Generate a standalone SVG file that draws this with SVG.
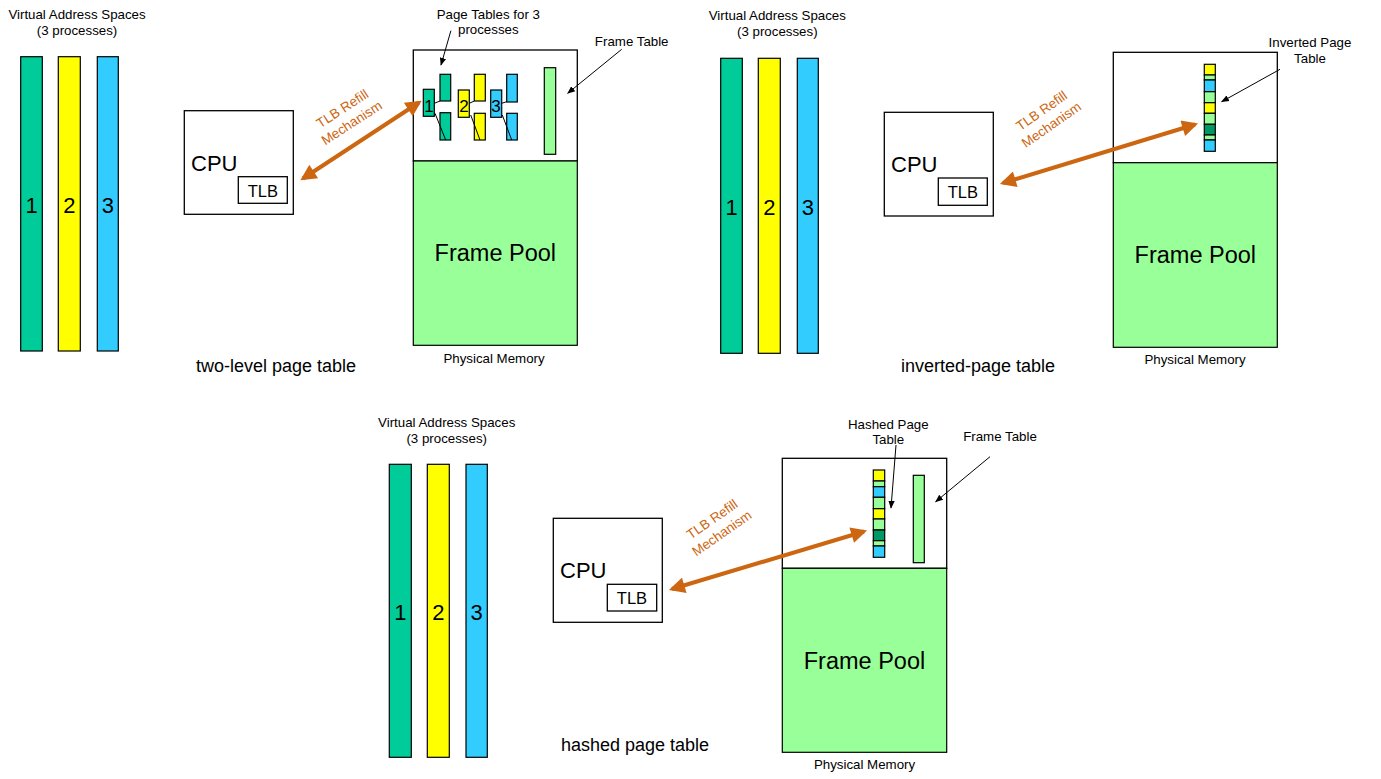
<svg xmlns="http://www.w3.org/2000/svg" width="1381" height="779" viewBox="0 0 1381 779">
<style>
text{font-family:"Liberation Sans",Arial,sans-serif;fill:#000}
.s12{font-size:13.3px}.s16{font-size:18px}.s22{font-size:22px}.fp{font-size:23.5px}.s15{font-size:17px}.tl{font-size:16.5px}
.c{text-anchor:middle}
.box{fill:#fff;stroke:#000;stroke-width:1.3}
.g1{fill:#00CC99;stroke:#000;stroke-width:1.2}
.y{fill:#FFFF00;stroke:#000;stroke-width:1.2}
.b{fill:#33CCFF;stroke:#000;stroke-width:1.2}
.lg{fill:#99FF99;stroke:#000;stroke-width:1.2}
.dg{fill:#009966;stroke:#000;stroke-width:1.2}
.thin{stroke:#000;stroke-width:1;fill:none;marker-end:url(#ah)}
.ln{stroke:#000;stroke-width:1;fill:none}
.tlb{stroke:#CC6611;stroke-width:4;fill:none;marker-start:url(#oa);marker-end:url(#oa)}
.or{fill:#CC6611;font-size:13.5px;text-anchor:middle}
</style>
<defs>
<marker id="ah" viewBox="0 0 10 10" refX="9" refY="5" markerWidth="8" markerHeight="8" markerUnits="userSpaceOnUse" orient="auto-start-reverse"><path d="M0,1 L10,5 L0,9 z" fill="#000"/></marker>
<marker id="oa" viewBox="0 0 10 10" refX="8" refY="5" markerWidth="4.5" markerHeight="4" orient="auto-start-reverse"><path d="M0,0 L10,5 L0,10 z" fill="#CC6611"/></marker>
</defs>

<!-- Panel 1 -->
<g id="vas1">
<text class="s12 c" x="77" y="19">Virtual Address Spaces</text>
<text class="s12 c" x="77" y="35">(3 processes)</text>
<rect class="g1" x="20.7" y="56.7" width="21.6" height="294.3"/>
<rect class="y" x="58.3" y="56.7" width="22" height="294.3"/>
<rect class="b" x="97.3" y="56.7" width="21" height="294.3"/>
<text class="s22 c" x="31.5" y="213">1</text>
<text class="s22 c" x="69.3" y="213">2</text>
<text class="s22 c" x="107.8" y="213">3</text>
</g>
<g id="cpu1">
<rect class="box" x="184.3" y="110.7" width="109" height="103.6"/>
<text class="s22" x="191" y="171">CPU</text>
<rect class="box" x="238.3" y="176.7" width="49" height="26.6"/>
<text class="tl c" x="262.8" y="196.5">TLB</text>
</g>
<g id="mem1">
<rect class="box" x="413.3" y="50" width="164" height="111"/>
<rect class="lg" x="413.3" y="161" width="164" height="184.3"/>
<text class="fp c" x="495.3" y="261">Frame Pool</text>
<text class="s12 c" x="494" y="363">Physical Memory</text>
</g>
<g id="pt1">
<rect class="g1" x="423.3" y="89.3" width="11" height="27"/>
<rect class="g1" x="440" y="74.3" width="10.7" height="26.7"/>
<rect class="g1" x="440" y="112.7" width="10.7" height="27.3"/>
<rect class="y" x="458.3" y="90" width="11" height="27.3"/>
<rect class="y" x="474.3" y="74.3" width="11" height="26.7"/>
<rect class="y" x="474.3" y="113.3" width="11" height="26.7"/>
<rect class="b" x="490.7" y="90" width="11" height="27.3"/>
<rect class="b" x="506.7" y="74.3" width="10.6" height="27.7"/>
<rect class="b" x="506.7" y="113.3" width="10.6" height="26.7"/>
<path class="ln" d="M434.3,103.3 L440,101 M435,113.3 L445.7,140 M469.3,103.3 L474.3,101 M470.7,115 L480,140 M501.7,103.3 L506.7,101.7 M502.3,115 L511.7,140"/>
<text class="s15 c" x="429" y="111.8">1</text>
<text class="s15 c" x="464" y="112">2</text>
<text class="s15 c" x="496" y="112">3</text>
<text class="s12 c" x="488.3" y="18.5">Page Tables for 3</text>
<text class="s12 c" x="488.3" y="33.5">processes</text>
</g>
<g id="ft1">
<rect class="lg" x="544.3" y="67.7" width="11.4" height="86.6"/>
<text class="s12 c" x="631.7" y="46">Frame Table</text>
</g>
<text id="title1" class="s16" x="196" y="372">two-level page table</text>
<g id="lbl1" transform="translate(346.5,115) rotate(-33)">
<text class="or" x="0" y="-3">TLB Refill</text>
<text class="or" x="0" y="14">Mechanism</text>
</g>

<!-- Panel 2 -->
<g id="vas2">
<text class="s12 c" x="777.3" y="19.5">Virtual Address Spaces</text>
<text class="s12 c" x="777.3" y="35.5">(3 processes)</text>
<rect class="g1" x="720.7" y="58.3" width="21.6" height="295"/>
<rect class="y" x="758.3" y="58.3" width="22" height="295"/>
<rect class="b" x="797.3" y="58.3" width="21" height="295"/>
<text class="s22 c" x="731.5" y="215">1</text>
<text class="s22 c" x="769.3" y="215">2</text>
<text class="s22 c" x="807.8" y="215">3</text>
</g>
<g id="cpu2">
<rect class="box" x="884.3" y="112.3" width="109" height="103.7"/>
<text class="s22" x="891" y="172.3">CPU</text>
<rect class="box" x="938.3" y="178" width="49" height="27.3"/>
<text class="tl c" x="962.8" y="198.3">TLB</text>
</g>
<g id="mem2">
<rect class="box" x="1113.3" y="52.3" width="164" height="110.4"/>
<rect class="lg" x="1113.3" y="162.7" width="164" height="184.6"/>
<text class="fp c" x="1195.3" y="263">Frame Pool</text>
<text class="s12 c" x="1195" y="364">Physical Memory</text>
</g>
<g id="ipt">
<rect class="y" x="1204.3" y="64.3" width="11" height="10.7"/>
<rect class="lg" x="1204.3" y="75" width="11" height="5"/>
<rect class="b" x="1204.3" y="80" width="11" height="11.7"/>
<rect class="lg" x="1204.3" y="91.7" width="11" height="11"/>
<rect class="y" x="1204.3" y="102.7" width="11" height="10.6"/>
<rect class="lg" x="1204.3" y="113.3" width="11" height="11"/>
<rect class="dg" x="1204.3" y="124.3" width="11" height="10.7"/>
<rect class="lg" x="1204.3" y="135" width="11" height="5"/>
<rect class="b" x="1204.3" y="140" width="11" height="11.3"/>
<text class="s12 c" x="1310" y="47">Inverted Page</text>
<text class="s12 c" x="1310" y="63">Table</text>
</g>
<text id="title2" class="s16" x="901" y="372">inverted-page table</text>
<g id="lbl2" transform="translate(1046,117) rotate(-35)">
<text class="or" x="0" y="-3">TLB Refill</text>
<text class="or" x="0" y="14">Mechanism</text>
</g>

<!-- Panel 3 -->
<g id="vas3">
<text class="s12 c" x="446.7" y="426.7">Virtual Address Spaces</text>
<text class="s12 c" x="446.7" y="442.7">(3 processes)</text>
<rect class="g1" x="389.3" y="464.3" width="22" height="293"/>
<rect class="y" x="427.3" y="464.3" width="22" height="293"/>
<rect class="b" x="466" y="464.3" width="21.3" height="293"/>
<text class="s22 c" x="400.3" y="620">1</text>
<text class="s22 c" x="438.3" y="620">2</text>
<text class="s22 c" x="476.6" y="620">3</text>
</g>
<g id="cpu3">
<rect class="box" x="553.3" y="518.3" width="109" height="104"/>
<text class="s22" x="560" y="578.3">CPU</text>
<rect class="box" x="607.3" y="584.3" width="49.4" height="26.7"/>
<text class="tl c" x="632" y="604.3">TLB</text>
</g>
<g id="mem3">
<rect class="box" x="782.3" y="458.3" width="164.4" height="110"/>
<rect class="lg" x="782.3" y="568.3" width="164.4" height="184"/>
<text class="fp c" x="864.5" y="669">Frame Pool</text>
<text class="s12 c" x="864.5" y="769">Physical Memory</text>
</g>
<g id="hpt">
<rect class="y" x="873.3" y="470" width="11.4" height="11"/>
<rect class="lg" x="873.3" y="481" width="11.4" height="5.7"/>
<rect class="b" x="873.3" y="486.7" width="11.4" height="10.6"/>
<rect class="lg" x="873.3" y="497.3" width="11.4" height="11.4"/>
<rect class="y" x="873.3" y="508.7" width="11.4" height="10.3"/>
<rect class="lg" x="873.3" y="519" width="11.4" height="11"/>
<rect class="dg" x="873.3" y="530" width="11.4" height="10.7"/>
<rect class="lg" x="873.3" y="540.7" width="11.4" height="5.3"/>
<rect class="b" x="873.3" y="546" width="11.4" height="11.3"/>
<text class="s12 c" x="888.3" y="429">Hashed Page</text>
<text class="s12 c" x="888.3" y="444">Table</text>
</g>
<g id="ft3">
<rect class="lg" x="913.3" y="475.3" width="11" height="87.4"/>
<text class="s12 c" x="1000" y="441">Frame Table</text>
</g>
<text id="title3" class="s16" x="561" y="751">hashed page table</text>
<g id="lbl3" transform="translate(716.5,525.5) rotate(-35)">
<text class="or" x="0" y="-3">TLB Refill</text>
<text class="or" x="0" y="14">Mechanism</text>
</g>

<g id="connectors">
<path class="thin" d="M450.9,30.7 L441,65"/>
<path class="thin" d="M621.7,49.3 L567.7,93.3"/>
<path class="tlb" d="M303,178.5 L419,102.5"/>
<path class="thin" d="M1280,69.3 L1221.7,101.7"/>
<path class="tlb" d="M1003,183 L1195,124.5"/>
<path class="thin" d="M896,445 L891,508"/>
<path class="thin" d="M990,456.7 L935.7,501.7"/>
<path class="tlb" d="M672,589 L864,531.5"/>
</g>
</svg>
